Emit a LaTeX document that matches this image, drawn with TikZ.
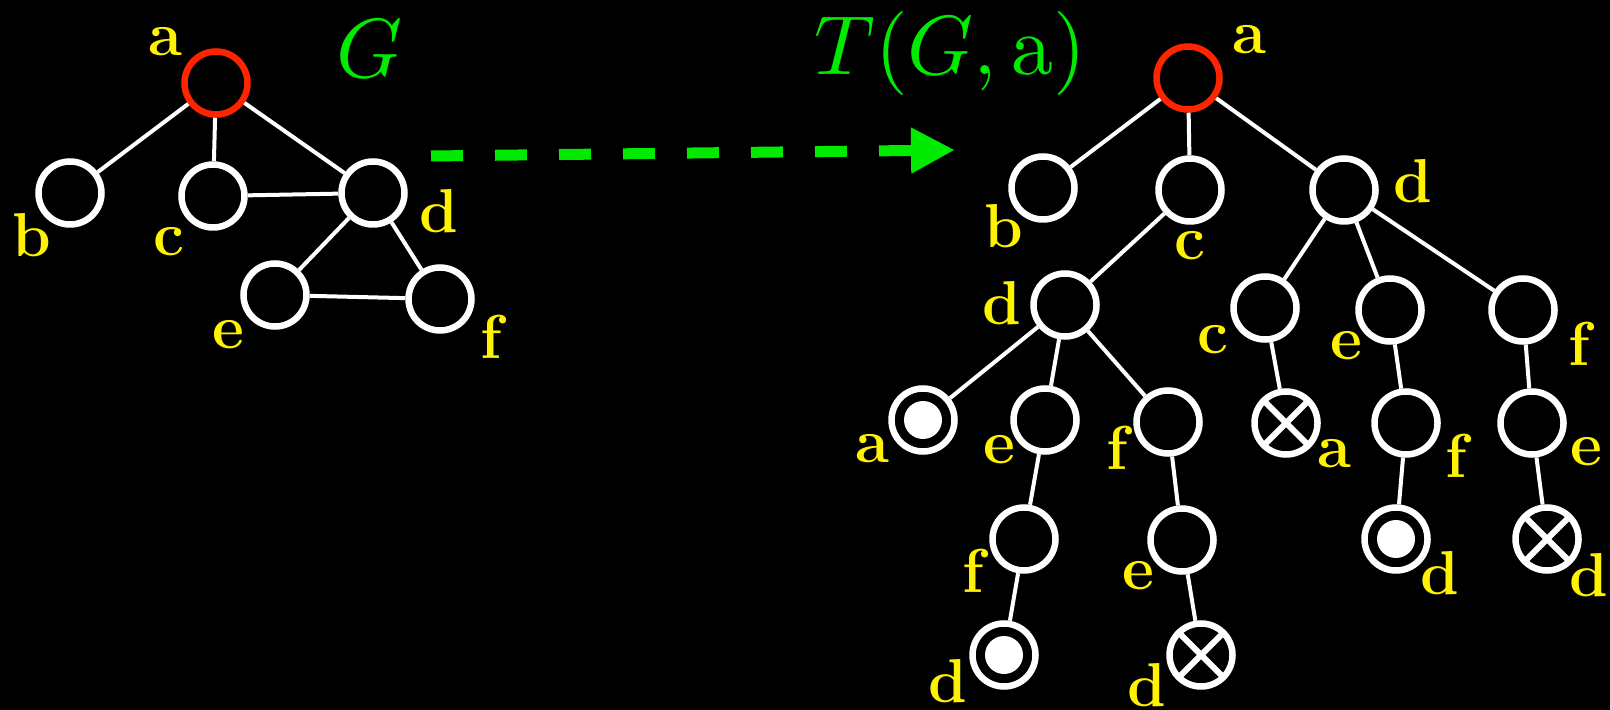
\documentclass[tikz,border=0pt]{standalone}
\usepackage{fontspec}
\usetikzlibrary{arrows.meta}
\definecolor{rootred}{RGB}{255,36,0}
\definecolor{mapgreen}{RGB}{0,235,0}
\tikzset{
  vtx/.style={circle,draw=white,line width=3.25pt,minimum size=31.5pt,inner sep=0pt},
  root/.style={vtx,draw=rootred},
  hit/.style={vtx,path picture={\fill[white] (path picture bounding box.center) circle (9.5pt);}},
  miss/.style={vtx,path picture={
    \draw[white,line width=3pt] (path picture bounding box.south west) -- (path picture bounding box.north east)
      (path picture bounding box.north west) -- (path picture bounding box.south east);}},
  lbl/.style={text=yellow,font=\fontsize{31}{36}\selectfont\bfseries,inner sep=0pt},
  ttl/.style={text=mapgreen,inner sep=0pt,anchor=base},
  link/.style={white,line width=2pt},
}
\newcommand{\bigmath}[1]{\scalebox{4.2}{$#1$}}

\begin{document}
\begin{tikzpicture}[x=0.5pt,y=-0.5pt]
    \fill[black] (0,0) rectangle (1610,710);
    \useasboundingbox (0,0) rectangle (1610,710);

    % the graph G
    \node[root] (ga) at (216,83) {};
    \node[vtx] (gb) at (70,193) {};
    \node[vtx] (gc) at (213,196) {};
    \node[vtx] (gd) at (373,193) {};
    \node[vtx] (ge) at (275,295) {};
    \node[vtx] (gf) at (440,299) {};
    \draw[link] (ga) -- (gb);
    \draw[link] (ga) -- (gc);
    \draw[link] (ga) -- (gd);
    \draw[link] (gc) -- (gd);
    \draw[link] (gd) -- (ge);
    \draw[link] (gd) -- (gf);
    \draw[link] (ge) -- (gf);
    \node[lbl] (lga) at (165,42) {a};
    \node[lbl] (lgb) at (32,235) {b};
    \node[lbl] (lgc) at (169,242) {c};
    \node[lbl] (lgd) at (439,211) {d};
    \node[lbl] (lge) at (228,335) {e};
    \node[lbl] (lgf) at (491,337) {f};
    \node[ttl] (gname) at (370,78) {\bigmath{G}};

    % the map
    \coordinate (m1) at (431,156);
    \coordinate (m2) at (955,150);
    \draw[mapgreen,line width=5.5pt,dash pattern=on 16pt off 16pt,
          -{Triangle[length=22pt,width=21.5pt]}] (m1) -- (m2);
    \node[ttl] (tname) at (950,75) {\bigmath{T(G,\mathrm{a})}};

    % the tree T(G,a)
    \node[root] (ta) at (1188,78) {};
    \node[vtx] (tab) at (1043,188) {};
    \node[vtx] (tac) at (1190,190) {};
    \node[vtx] (tad) at (1344,190) {};
    \node[vtx] (tacd) at (1065,305) {};
    \node[vtx] (tadc) at (1265,308) {};
    \node[vtx] (tade) at (1390,310) {};
    \node[vtx] (tadf) at (1523,310) {};
    \node[hit] (tacda) at (923,420) {};
    \node[vtx] (tacde) at (1045,420) {};
    \node[vtx] (tacdf) at (1168,422) {};
    \node[miss] (tadca) at (1286,423) {};
    \node[vtx] (tadef) at (1406,423) {};
    \node[vtx] (tadfe) at (1532,423) {};
    \node[vtx] (tacdef) at (1024,539) {};
    \node[vtx] (tacdfe) at (1182,540) {};
    \node[hit] (tadefd) at (1396,539) {};
    \node[miss] (tadfed) at (1547,539) {};
    \node[hit] (tacdefd) at (1004,655) {};
    \node[miss] (tacdfed) at (1201,655) {};

    \draw[link] (ta) -- (tab);
    \draw[link] (ta) -- (tac);
    \draw[link] (ta) -- (tad);
    \draw[link] (tac) -- (tacd);
    \draw[link] (tad) -- (tadc);
    \draw[link] (tad) -- (tade);
    \draw[link] (tad) -- (tadf);
    \draw[link] (tacd) -- (tacda);
    \draw[link] (tacd) -- (tacde);
    \draw[link] (tacd) -- (tacdf);
    \draw[link] (tadc) -- (tadca);
    \draw[link] (tade) -- (tadef);
    \draw[link] (tadf) -- (tadfe);
    \draw[link] (tacde) -- (tacdef);
    \draw[link] (tacdf) -- (tacdfe);
    \draw[link] (tadef) -- (tadefd);
    \draw[link] (tadfe) -- (tadfed);
    \draw[link] (tacdef) -- (tacdefd);
    \draw[link] (tacdfe) -- (tacdfed);

    \node[lbl] (lta) at (1249,40) {a};
    \node[lbl] (ltab) at (1004,226) {b};
    \node[lbl] (ltac) at (1190,246) {c};
    \node[lbl] (ltad) at (1413,181) {d};
    \node[lbl] (ltacd) at (1002,303) {d};
    \node[lbl] (ltadc) at (1213,340) {c};
    \node[lbl] (ltade) at (1346,346) {e};
    \node[lbl] (ltadf) at (1579,344) {f};
    \node[lbl] (ltacda) at (872,449) {a};
    \node[lbl] (ltacde) at (999,450) {e};
    \node[lbl] (ltacdf) at (1117,448) {f};
    \node[lbl] (ltadca) at (1334,454) {a};
    \node[lbl] (ltadef) at (1456,456) {f};
    \node[lbl] (ltadfe) at (1586,452) {e};
    \node[lbl] (ltacdef) at (973,571) {f};
    \node[lbl] (ltacdfe) at (1138,576) {e};
    \node[lbl] (ltadefd) at (1440,573) {d};
    \node[lbl] (ltadfed) at (1589,575) {d};
    \node[lbl] (ltacdefd) at (948,681) {d};
    \node[lbl] (ltacdfed) at (1147,685) {d};
  \end{tikzpicture}
\end{document}
